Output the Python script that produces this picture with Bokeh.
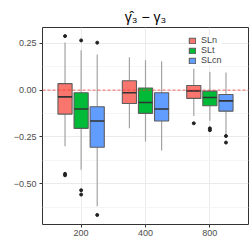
from bokeh.plotting import figure
from bokeh.models import FixedTicker, Span, Legend, LegendItem, ColumnDataSource, Title
from bokeh.embed import file_html
from bokeh.resources import INLINE

sizes = ["200", "400", "800"]
series = ["SLn", "SLt", "SLcn"]
colors = ["#F8766D", "#00BA38", "#619CFF"]

# box statistics per series, one value per sample size (200, 400, 800)
SLn_q1 = [-0.128, -0.071, -0.044]
SLn_med = [-0.036, -0.014, -0.004]
SLn_q3 = [0.035, 0.050, 0.025]
SLn_lo = [-0.300, -0.204, -0.138]
SLn_hi = [0.255, 0.176, 0.115]
SLn_out = [[0.289, -0.447, -0.455], [], [-0.177]]

SLt_q1 = [-0.204, -0.124, -0.083]
SLt_med = [-0.101, -0.066, -0.039]
SLt_q3 = [-0.014, 0.012, -0.005]
SLt_lo = [-0.425, -0.275, -0.163]
SLt_hi = [0.213, 0.160, 0.097]
SLt_out = [[0.266, -0.535, -0.558], [], [-0.204, -0.214]]

SLcn_q1 = [-0.305, -0.165, -0.112]
SLcn_med = [-0.165, -0.101, -0.057]
SLcn_q3 = [-0.089, -0.014, -0.023]
SLcn_lo = [-0.620, -0.323, -0.239]
SLcn_hi = [0.191, 0.154, 0.094]
SLcn_out = [[0.254, -0.667], [], [-0.245, -0.280]]

stats = {
    "SLn": (SLn_q1, SLn_med, SLn_q3, SLn_lo, SLn_hi, SLn_out),
    "SLt": (SLt_q1, SLt_med, SLt_q3, SLt_lo, SLt_hi, SLt_out),
    "SLcn": (SLcn_q1, SLcn_med, SLcn_q3, SLcn_lo, SLcn_hi, SLcn_out),
}

p = figure(width=252, height=252, output_backend="svg", toolbar_location=None,
           x_range=(0.4, 3.6), y_range=(-0.718, 0.335),
           min_border_left=42, min_border_right=4, min_border_top=27, min_border_bottom=28)

p.add_layout(Title(text="γ̂₃ − γ₃", align="center", text_font="Liberation Sans",
                   text_font_size="14px", text_font_style="normal", text_color="black",
                   standoff=5), "above")

p.background_fill_color = "white"
p.border_fill_color = "white"
p.outline_line_color = "#333333"
p.outline_line_width = 1

for ax in (p.xaxis[0], p.yaxis[0]):
    ax.axis_line_color = None
    ax.major_tick_line_color = "#333333"
    ax.major_tick_out = 3
    ax.major_tick_in = 0
    ax.minor_tick_line_color = None
    ax.major_label_text_font = "Liberation Sans"
    ax.major_label_text_font_size = "9px"
    ax.major_label_text_color = "#4D4D4D"
    ax.major_label_standoff = 2

p.xaxis.ticker = FixedTicker(ticks=[1, 2, 3])
p.xaxis.major_label_overrides = {1: sizes[0], 2: sizes[1], 3: sizes[2]}
p.yaxis.ticker = FixedTicker(ticks=[-0.5, -0.25, 0, 0.25], minor_ticks=[-0.625, -0.375, -0.125, 0.125])
p.yaxis.major_label_overrides = {-0.5: "−0.50", -0.25: "−0.25", 0: "0.00", 0.25: "0.25"}

p.xgrid.grid_line_color = "#EBEBEB"
p.ygrid.grid_line_color = "#EBEBEB"
p.ygrid.minor_grid_line_color = "#F5F5F5"

offsets = [-0.25, 0.0, 0.25]
bw = 0.22
renderers = []
for si, name in enumerate(series):
    q1, med, q3, lo, hi, outs = stats[name]
    xs = [i + 1 + offsets[si] for i in range(3)]
    src = ColumnDataSource(dict(x=xs, q1=q1, med=med, q3=q3, lo=lo, hi=hi,
                                xm0=[x - bw / 2 for x in xs], xm1=[x + bw / 2 for x in xs]))
    p.segment(x0="x", y0="q3", x1="x", y1="hi", source=src, line_color="#A3A3A3", line_width=1.2)
    p.segment(x0="x", y0="lo", x1="x", y1="q1", source=src, line_color="#A3A3A3", line_width=1.2)
    r = p.vbar(x="x", width=bw, bottom="q1", top="q3", source=src, fill_color=colors[si],
               line_color="#5E5E5E", line_width=1.1)
    p.segment(x0="xm0", y0="med", x1="xm1", y1="med", source=src, line_color="#333333", line_width=1.6)
    ox, oy = [], []
    for i, o in enumerate(outs):
        for v in o:
            ox.append(xs[i])
            oy.append(v)
    p.scatter(ox, oy, size=3, color="#222222")
    renderers.append(r)

p.add_layout(Span(location=0, dimension="width", line_color="#FF3030", line_alpha=0.6,
                  line_dash="3 2", line_width=1.2))

legend = Legend(items=[LegendItem(label=n, renderers=[r]) for n, r in zip(series, renderers)],
                location=(146, 159), glyph_width=8, glyph_height=7, spacing=0,
                padding=3, margin=0, label_text_font="Liberation Sans",
                label_text_font_size="9px", label_standoff=5, label_height=7,
                background_fill_color="white", background_fill_alpha=1,
                border_line_color=None)
p.add_layout(legend)

open("out.html", "w").write(file_html(p, INLINE))
